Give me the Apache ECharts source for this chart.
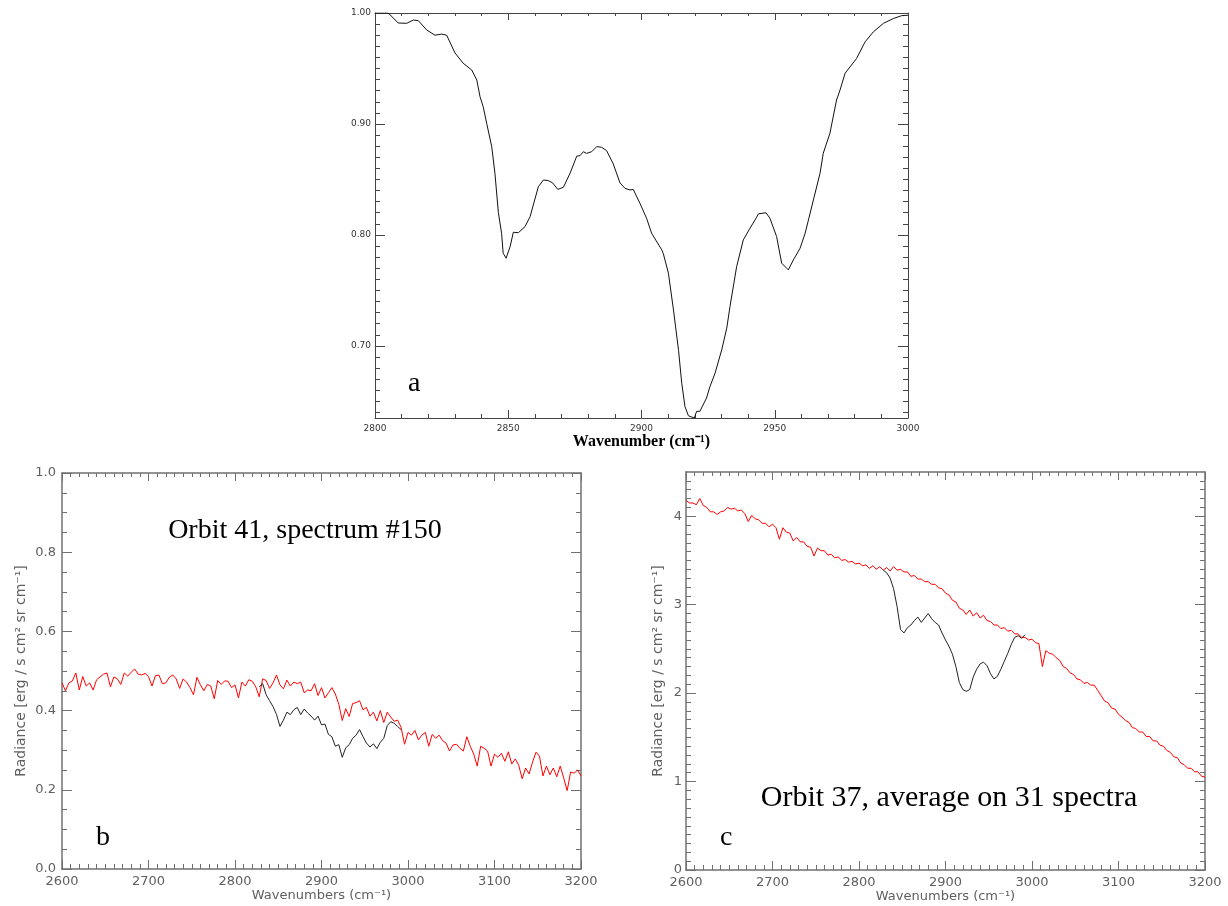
<!DOCTYPE html>
<html><head><meta charset="utf-8">
<script src="https://cdn.jsdelivr.net/npm/echarts@6/dist/echarts.min.js"></script>
<style>html,body{margin:0;padding:0;background:#fff}#c{width:1228px;height:906px}</style>
</head><body><div id="c"></div>
<script>
// ---------- Panel a: transmittance spectrum ----------
const aWave = [2800,2805,2808.7,2811.9,2814.4,2816.3,2819.4,2822.5,2825,2826.9,
  2830,2833.1,2836.3,2838.2,2839.4,2840.6,2841.9,2843.8,2845,2846.3,
  2847.5,2848.1,2849.2,2850.7,2851.9,2853.8,2856.3,2858.2,2859.4,2861.3,
  2863.2,2865,2866.6,2868.6,2870.7,2873.2,2875.7,2876.9,2878.2,2879.4,
  2881.3,2883.2,2885,2886.9,2889.4,2891.9,2893.8,2895.7,2896.9,2899.4,
  2901.9,2903.8,2907.6,2908.2,2910.1,2912,2913.9,2915.1,2916.3,2917.6,
  2919.8,2920.7,2921.9,2924.4,2925.7,2927.6,2930.1,2932,2933.2,2935.7,
  2938.2,2940.7,2942.6,2943.9,2946.7,2948.2,2950.7,2952.6,2955.1,2957,
  2959.5,2961.4,2962.8,2964.5,2967,2968.2,2970.7,2973.2,2974.5,2976.4,
  2980.7,2983.9,2987,2990.8,2994.5,2997.6,3000];
const aValue = [1.0,1.0,0.991,0.9907,0.9937,0.993,0.9847,0.980,0.981,0.980,
  0.964,0.9547,0.9486,0.9396,0.9246,0.9156,0.9006,0.8796,0.8556,0.82,
  0.8015,0.7835,0.779,0.7895,0.8024,0.802,0.8075,0.8165,0.827,0.8435,
  0.8495,0.849,0.847,0.841,0.843,0.8556,0.871,0.8714,0.875,0.8735,
  0.875,0.8796,0.879,0.876,0.864,0.847,0.842,0.8405,0.841,0.8286,
  0.815,0.8015,0.7865,0.783,0.7655,0.7324,0.696,0.6664,0.6454,0.637,
  0.635,0.641,0.641,0.653,0.6634,0.6754,0.6964,0.716,0.7354,0.7714,
  0.7955,0.806,0.8135,0.819,0.820,0.815,0.7985,0.7745,0.7685,0.7775,
  0.788,0.8015,0.815,0.8315,0.8556,0.8736,0.8916,0.9216,0.9306,0.9457,
  0.959,0.974,0.983,0.9907,0.995,0.9976,0.998];

// ---------- Panel b: Orbit 41, spectrum #150 ----------
const bRedStart = 2600, bRedStep = 4;
const bRed = [
  0.47,0.45,0.47,0.475,0.495,0.452,0.486,0.462,0.47,0.452,
  0.478,0.485,0.492,0.495,0.46,0.485,0.48,0.466,0.495,0.487,
  0.497,0.505,0.492,0.49,0.494,0.486,0.462,0.488,0.49,0.468,
  0.47,0.484,0.49,0.48,0.456,0.48,0.472,0.458,0.44,0.484,
  0.465,0.45,0.466,0.462,0.43,0.476,0.466,0.475,0.474,0.458,
  0.465,0.432,0.472,0.462,0.478,0.474,0.46,0.435,0.48,0.476,
  0.456,0.47,0.49,0.465,0.455,0.477,0.462,0.472,0.468,0.472,
  0.445,0.452,0.45,0.468,0.438,0.458,0.432,0.445,0.458,0.442,
  0.416,0.375,0.405,0.385,0.418,0.42,0.425,0.402,0.408,0.386,
  0.396,0.374,0.4,0.37,0.396,0.384,0.373,0.376,0.358,0.315,
  0.345,0.338,0.35,0.326,0.338,0.345,0.31,0.34,0.33,0.338,
  0.324,0.318,0.298,0.313,0.315,0.305,0.298,0.334,0.31,0.29,
  0.26,0.31,0.305,0.298,0.26,0.29,0.282,0.292,0.272,0.296,
  0.265,0.278,0.262,0.228,0.255,0.24,0.27,0.295,0.285,0.235,
  0.26,0.238,0.255,0.233,0.26,0.23,0.198,0.245,0.242,0.25,
  0.235];
const bBlackStart = 2828, bBlackStep = 4;
const bBlack = [
  0.46,0.468,0.44,0.425,0.41,0.39,0.36,0.376,0.396,0.39,
  0.402,0.408,0.39,0.404,0.394,0.386,0.376,0.386,0.364,0.366,
  0.34,0.334,0.31,0.314,0.282,0.306,0.314,0.33,0.338,0.352,
  0.334,0.318,0.308,0.316,0.304,0.32,0.33,0.362,0.372,0.368,
  0.36,0.352];

// ---------- Panel c: Orbit 37, average on 31 spectra ----------
const cRedStart = 2600, cRedStep = 4;
const cRed = [
  4.18,4.15,4.15,4.13,4.20,4.12,4.10,4.05,4.05,4.02,
  4.05,4.06,4.10,4.08,4.09,4.06,4.07,4.03,3.94,4.01,
  3.97,3.96,3.92,3.92,3.88,3.91,3.87,3.74,3.87,3.82,
  3.81,3.72,3.76,3.71,3.71,3.66,3.65,3.55,3.64,3.61,
  3.61,3.56,3.57,3.53,3.54,3.50,3.51,3.48,3.49,3.46,
  3.47,3.44,3.45,3.41,3.44,3.40,3.43,3.39,3.42,3.38,
  3.43,3.39,3.40,3.37,3.37,3.32,3.33,3.29,3.29,3.26,
  3.26,3.23,3.23,3.19,3.18,3.13,3.11,3.05,3.03,2.96,
  2.94,2.89,2.94,2.87,2.91,2.85,2.88,2.82,2.81,2.77,
  2.77,2.73,2.74,2.70,2.71,2.67,2.67,2.63,2.63,2.60,
  2.61,2.57,2.56,2.30,2.48,2.45,2.44,2.40,2.37,2.30,
  2.28,2.23,2.21,2.16,2.15,2.11,2.12,2.09,2.09,2.03,
  1.97,1.91,1.89,1.83,1.82,1.76,1.73,1.69,1.67,1.61,
  1.60,1.56,1.56,1.51,1.51,1.46,1.46,1.41,1.40,1.35,
  1.33,1.28,1.27,1.21,1.19,1.15,1.15,1.11,1.11,1.06,
  1.05];
const cBlackStart = 2828, cBlackStep = 4;
const cBlack = [
  3.39,3.36,3.30,3.18,2.98,2.72,2.68,2.74,2.77,2.82,
  2.86,2.80,2.85,2.90,2.84,2.80,2.77,2.68,2.60,2.53,
  2.44,2.30,2.12,2.04,2.02,2.04,2.18,2.27,2.33,2.35,
  2.31,2.22,2.16,2.19,2.27,2.36,2.45,2.55,2.63,2.65,
  2.62,2.66];

// tick label lists
const aYLabels = [0.7, 0.8, 0.9, 1.0];
const cYLabels = [0, 1, 2, 3, 4];

// ---------- helpers ----------
function seriesFrom(start, step, vals) { return vals.map((v, i) => [start + i * step, v]); }
function pairs(xs, ys) { return xs.map((x, i) => [x, ys[i]]); }
const aYMinor = []; for (let k = 64; k <= 99; k++) if (k % 10) aYMinor.push(k / 100);
const cYMinor = []; for (let k = 1; k <= 44; k++) if (k % 10) cYMinor.push(k / 10);

const A = {line:'#444', lw:1, lab:'#333', fs:9};
const B = {line:'#707070', lw:1.5, lab:'#606060', fs:13};
const FF = 'DejaVu Sans';

function xAx(g, pos, min, max, interval, split, st, labels, tick, minor, extra) {
  return Object.assign({
    type:'value', gridIndex:g, position:pos, min, max, interval,
    axisLine:{show:true, onZero:false, lineStyle:{color:st.line, width:st.lw}},
    axisTick:{show:true, inside:true, length:tick, lineStyle:{color:st.line, width:1}},
    minorTick:{show:true, splitNumber:split, length:minor, lineStyle:{color:st.line, width:1}},
    axisLabel:{show:labels, color:st.lab, fontSize:st.fs, fontFamily:FF, margin:6, formatter:v => String(v)},
    splitLine:{show:false}, minorSplitLine:{show:false}
  }, extra || {});
}
function yAxReg(g, pos, min, max, interval, split, st, labels, tick, minor, fmt, extra) {
  return Object.assign({
    type:'value', gridIndex:g, position:pos, min, max, interval,
    axisLine:{show:true, onZero:false, lineStyle:{color:st.line, width:st.lw}},
    axisTick:{show:true, inside:true, length:tick, lineStyle:{color:st.line, width:1}},
    minorTick:{show:true, splitNumber:split, length:minor, lineStyle:{color:st.line, width:1}},
    axisLabel:{show:labels, color:st.lab, fontSize:st.fs, fontFamily:FF, margin:6, formatter:fmt},
    splitLine:{show:false}
  }, extra || {});
}
function yAxCustom(g, pos, min, max, st, vals, labels, tick, showLine, fmt, extra) {
  return Object.assign({
    type:'value', gridIndex:g, position:pos, min, max,
    axisLine:{show:showLine, onZero:false, lineStyle:{color:st.line, width:st.lw}},
    axisTick:{show:true, inside:true, length:tick, customValues:vals, lineStyle:{color:st.line, width:1}},
    minorTick:{show:false},
    axisLabel:{show:labels, customValues:vals, color:st.lab, fontSize:st.fs, fontFamily:FF, margin:4, formatter:fmt},
    splitLine:{show:false}
  }, extra || {});
}

const nameStyleB = {color:'#606060', fontSize:13, fontFamily:FF};

const option = {
  animation:false,
  backgroundColor:'#fff',
  grid:[
    {left:375, top:13, width:533, height:405},
    {left:62, top:473, width:519, height:396},
    {left:686, top:472, width:519, height:398}
  ],
  xAxis:[
    xAx(0,'bottom',2800,3000,50,5,A,true,8,4,{name:'Wavenumber (cm⁻¹)', nameLocation:'middle', nameGap:14,
      nameTextStyle:{color:'#000', fontSize:16, fontWeight:'bold', fontFamily:'Liberation Serif'}}),
    xAx(0,'top',2800,3000,50,5,A,false,7,3),
    xAx(1,'bottom',2600,3200,100,10,B,true,9,5,{name:'Wavenumbers (cm⁻¹)', nameLocation:'middle', nameGap:19, nameTextStyle:nameStyleB}),
    xAx(1,'top',2600,3200,100,10,B,false,8,4),
    xAx(2,'bottom',2600,3200,100,10,B,true,9,5,{name:'Wavenumbers (cm⁻¹)', nameLocation:'middle', nameGap:19, nameTextStyle:nameStyleB}),
    xAx(2,'top',2600,3200,100,10,B,false,8,4)
  ],
  yAxis:[
    yAxCustom(0,'left',0.635,1.0,A,aYLabels,true,10,true,v => v.toFixed(2)),
    yAxCustom(0,'left',0.635,1.0,A,aYMinor,false,5,false,null),
    yAxCustom(0,'right',0.635,1.0,A,aYLabels,false,10,true,null),
    yAxCustom(0,'right',0.635,1.0,A,aYMinor,false,5,false,null),
    yAxReg(1,'left',0,1,0.2,4,B,true,10,5,v => v.toFixed(1),{name:'Radiance [erg / s cm² sr cm⁻¹]', nameLocation:'middle', nameGap:34, nameTextStyle:Object.assign({}, nameStyleB, {fontSize:14})}),
    yAxReg(1,'right',0,1,0.2,4,B,false,10,5,null),
    yAxCustom(2,'left',0,4.5,B,cYLabels,true,10,true,v => String(v),{name:'Radiance [erg / s cm² sr cm⁻¹]', nameLocation:'middle', nameGap:21, nameTextStyle:Object.assign({}, nameStyleB, {fontSize:14})}),
    yAxCustom(2,'left',0,4.5,B,cYMinor,false,5,false,null),
    yAxCustom(2,'right',0,4.5,B,cYLabels,false,10,true,null),
    yAxCustom(2,'right',0,4.5,B,cYMinor,false,5,false,null)
  ],
  series:[
    {type:'line', xAxisIndex:0, yAxisIndex:0, data:pairs(aWave, aValue), showSymbol:false, lineStyle:{color:'#111', width:1}, silent:true},
    {type:'line', xAxisIndex:2, yAxisIndex:4, data:seriesFrom(bRedStart, bRedStep, bRed), showSymbol:false, lineStyle:{color:'#ff0000', width:1}, silent:true},
    {type:'line', xAxisIndex:2, yAxisIndex:4, data:seriesFrom(bBlackStart, bBlackStep, bBlack), showSymbol:false, lineStyle:{color:'#222', width:1}, silent:true},
    {type:'line', xAxisIndex:4, yAxisIndex:6, data:seriesFrom(cRedStart, cRedStep, cRed), showSymbol:false, lineStyle:{color:'#ff0000', width:1}, silent:true},
    {type:'line', xAxisIndex:4, yAxisIndex:6, data:seriesFrom(cBlackStart, cBlackStep, cBlack), showSymbol:false, lineStyle:{color:'#222', width:1}, silent:true}
  ],
  graphic:[
    {type:'text', x:408, y:384, style:{text:'a', font:'28px "Liberation Serif"', fill:'#000', verticalAlign:'middle'}},
    {type:'text', x:96, y:838, style:{text:'b', font:'28px "Liberation Serif"', fill:'#000', verticalAlign:'middle'}},
    {type:'text', x:720, y:838, style:{text:'c', font:'28px "Liberation Serif"', fill:'#000', verticalAlign:'middle'}},
    {type:'text', x:305, y:531, style:{text:'Orbit 41, spectrum #150', font:'28px "Liberation Serif"', fill:'#000', align:'center', verticalAlign:'middle'}},
    {type:'text', x:949, y:798, style:{text:'Orbit 37, average on 31 spectra', font:'30px "Liberation Serif"', fill:'#000', align:'center', verticalAlign:'middle'}}
  ]
};
const chart = echarts.init(document.getElementById('c'));
chart.setOption(option);
</script>
</body></html>
